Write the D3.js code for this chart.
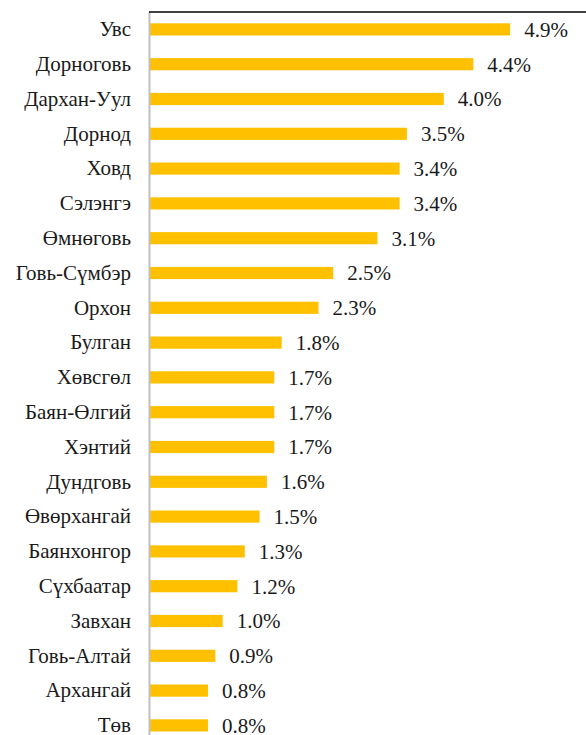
<!DOCTYPE html>
<html>
<head>
<meta charset="utf-8">
<script src="https://cdn.jsdelivr.net/npm/d3@7/dist/d3.min.js"></script>
<style>
  html, body { margin: 0; padding: 0; background: #fff; }
  svg { display: block; }
  svg text { font-family: "Liberation Serif"; font-size: 21px; fill: #1a1a1a; }
</style>
</head>
<body>
<svg id="chart" width="586" height="735"></svg>
<script>
// Aimag names, top to bottom
const categories = [
  "Увс", "Дорноговь", "Дархан-Уул", "Дорнод", "Ховд", "Сэлэнгэ", "Өмнөговь",
  "Говь-Сүмбэр", "Орхон", "Булган", "Хөвсгөл", "Баян-Өлгий", "Хэнтий",
  "Дундговь", "Өвөрхангай", "Баянхонгор", "Сүхбаатар", "Завхан",
  "Говь-Алтай", "Архангай", "Төв"
];
// Percentage value for each aimag
const values = [
  4.9, 4.4, 4.0, 3.5, 3.4, 3.4, 3.1,
  2.5, 2.3, 1.8, 1.7, 1.7, 1.7,
  1.6, 1.5, 1.3, 1.2, 1.0,
  0.9, 0.8, 0.8
];

const data = categories.map((c, i) => ({ name: c, value: values[i] }));

const svg = d3.select("#chart");
const W = 586, H = 735;
const plotLeft = 149, plotTop = 12;
const step = 34.8;

const x = d3.scaleLinear().domain([0, 5]).range([plotLeft, plotLeft + 5 * 73.7]);
const y = d3.scaleBand()
  .domain(categories)
  .range([plotTop, plotTop + categories.length * step])
  .paddingInner(0.65)
  .paddingOuter(0.325);

// Bars
svg.append("g")
  .selectAll("rect")
  .data(data)
  .join("rect")
  .attr("x", x(0) + 1)
  .attr("y", d => y(d.name))
  .attr("width", d => x(d.value) - x(0) - 1)
  .attr("height", y.bandwidth())
  .attr("fill", "#FFC000");

// Value labels
svg.append("g")
  .selectAll("text")
  .data(data)
  .join("text")
  .attr("x", d => x(d.value) + 14)
  .attr("y", d => y(d.name) + y.bandwidth() / 2)
  .attr("dy", "0.35em")
  .text(d => d.value.toFixed(1) + "%");

// Category axis
const yAxis = d3.axisLeft(y).tickSize(0).tickPadding(18);
const gAxis = svg.append("g")
  .attr("transform", `translate(${plotLeft},0)`)
  .call(yAxis)
  .attr("font-family", null)
  .attr("font-size", null);
gAxis.select(".domain").remove();

// Vertical axis line
svg.append("line")
  .attr("x1", plotLeft + 0.5).attr("x2", plotLeft + 0.5)
  .attr("y1", plotTop).attr("y2", H)
  .attr("stroke", "#bfbfbf")
  .attr("stroke-width", 2);

// Top border line
svg.append("line")
  .attr("x1", plotLeft).attr("x2", W)
  .attr("y1", plotTop).attr("y2", plotTop)
  .attr("stroke", "#000")
  .attr("stroke-width", 1.5);
</script>
</body>
</html>
